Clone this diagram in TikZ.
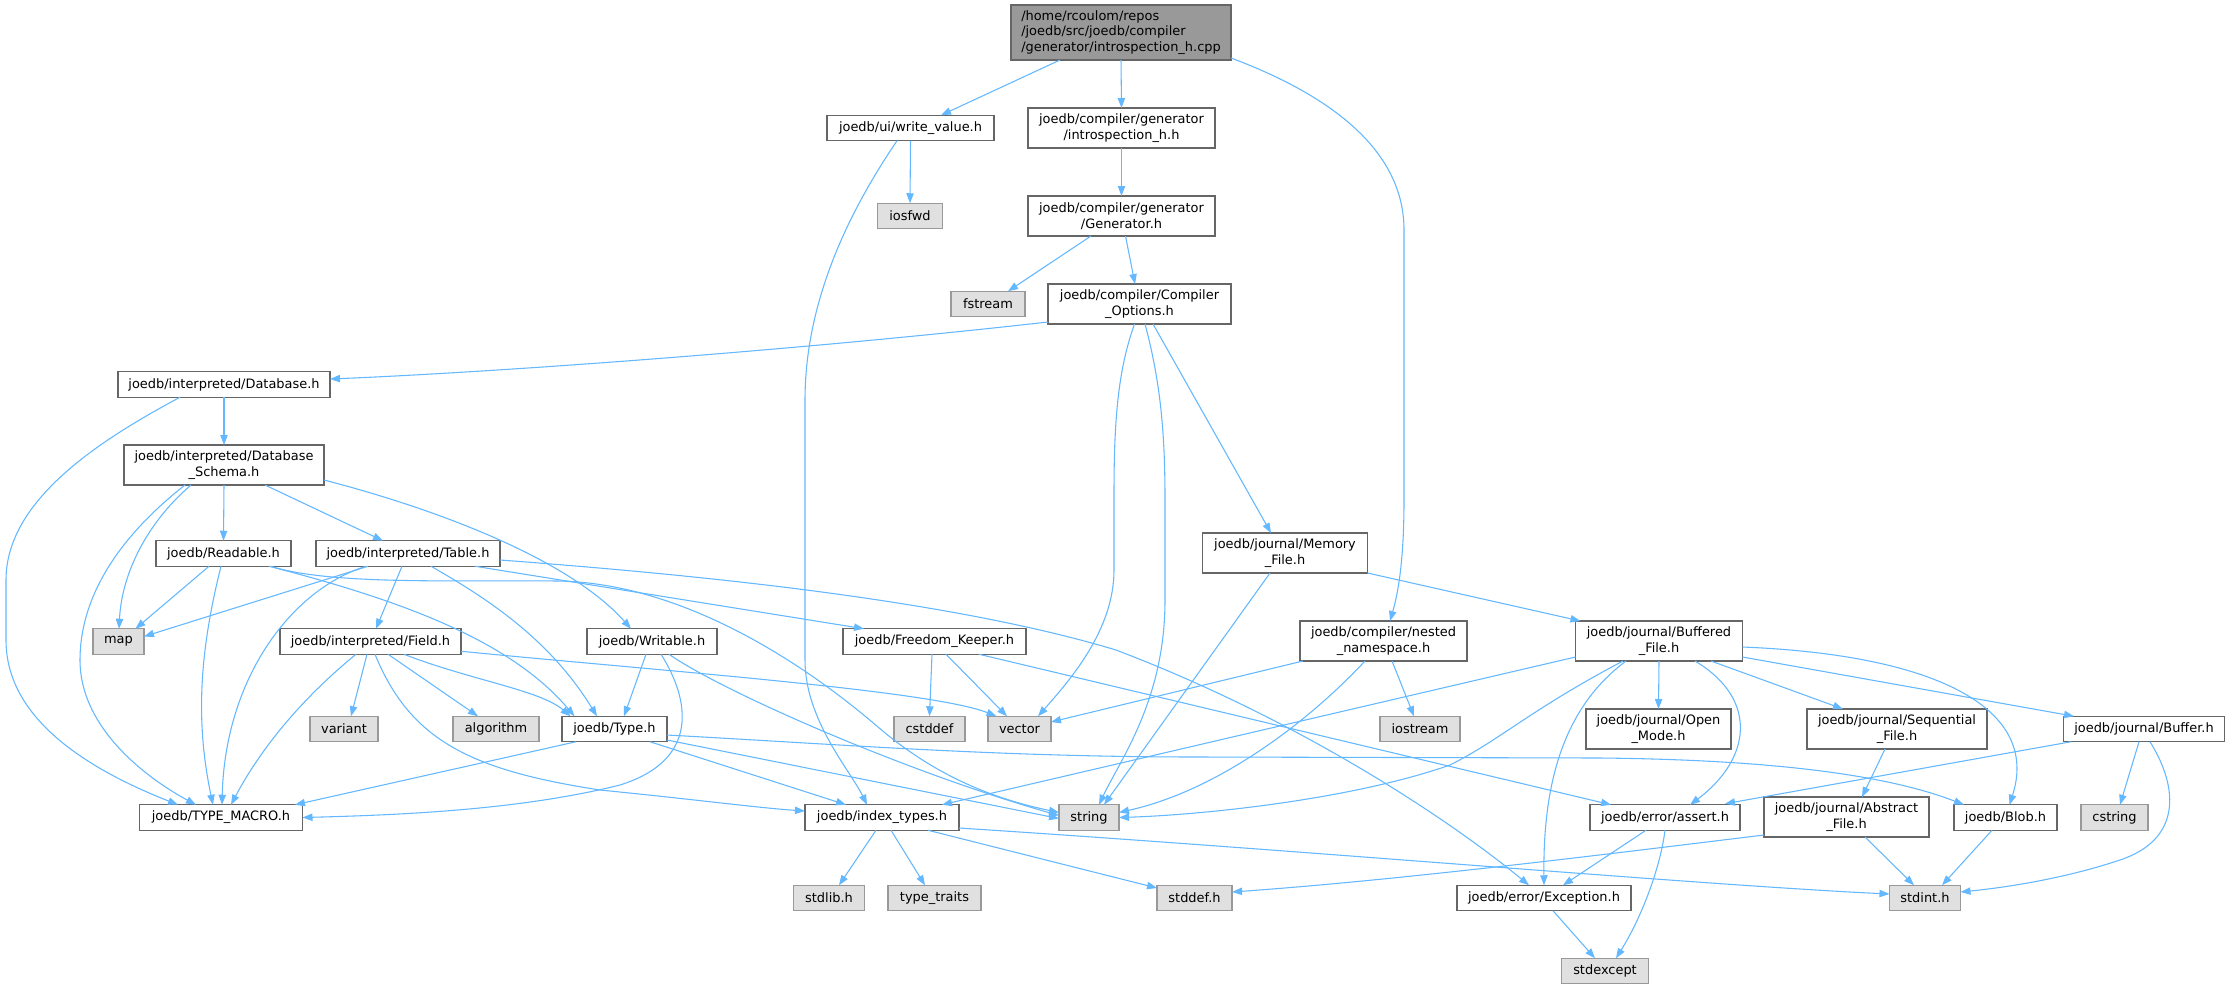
\documentclass[tikz,border=0pt]{standalone}
\usepackage{fontspec}
\newfontfamily\djv{DejaVu Sans}
\usetikzlibrary{arrows.meta,calc}
\definecolor{edgec}{HTML}{63B8FF}
\definecolor{gfour}{HTML}{666666}
\definecolor{gsix}{HTML}{999999}
\definecolor{gnine}{HTML}{E0E0E0}
\begin{document}
\begin{tikzpicture}[x=0.75pt,y=-0.75pt,
  nd/.style={draw=gfour, fill=white, line width=0.8pt, inner sep=0pt, outer sep=0pt, align=center,
    font=\djv\fontsize{9.7}{11.8}\selectfont, minimum height=25.5*0.75pt},
  sys/.style={nd, draw=gsix, fill=gnine},
  two/.style={minimum height=40*0.75pt},
  bw/.style={minimum width=#1*0.75pt},
  e/.style={draw=edgec, line width=0.8pt, -{Triangle[length=7.5pt,width=5.5pt]}}
]
\fill[white] (0,0) rectangle (2230,989);
\useasboundingbox (0,0) rectangle (2230,989);

% nodes
\node[nd,bw=220,minimum height=55*0.75pt,fill=gsix,align=left] (root) at (1121,32.5) {/home/rcoulom/repos\\/joedb/src/joedb/compiler\\/generator/introspection\_h.cpp};
\node[nd,bw=167] (wv) at (910.5,128) {joedb/ui/write\_value.h};
\node[nd,two,bw=187] (ih) at (1121.5,128) {joedb/compiler/generator\\/introspection\_h.h};
\node[sys,bw=65] (iosfwd) at (910,216) {iosfwd};
\node[nd,two,bw=187] (gen) at (1121.5,216) {joedb/compiler/generator\\/Generator.h};
\node[sys,bw=74] (fstream) at (988,304) {fstream};
\node[nd,two,bw=183] (co) at (1139.5,304) {joedb/compiler/Compiler\\\_Options.h};
\node[nd,bw=212] (db) at (224,384.5) {joedb/interpreted/Database.h};
\node[nd,two,bw=200] (dbs) at (224,465) {joedb/interpreted/Database\\\_Schema.h};
\node[nd,bw=135] (rd) at (223.5,553.5) {joedb/Readable.h};
\node[nd,bw=184] (tbl) at (408,553.5) {joedb/interpreted/Table.h};
\node[nd,two,bw=165] (mf) at (1285,553) {joedb/journal/Memory\\\_File.h};
\node[sys,bw=51] (map) at (118.5,641.5) {map};
\node[nd,bw=181] (fld) at (370.5,641.5) {joedb/interpreted/Field.h};
\node[nd,bw=130] (wr) at (652,641.5) {joedb/Writable.h};
\node[nd,bw=183] (fk) at (934.5,641.5) {joedb/Freedom\_Keeper.h};
\node[nd,two,bw=167] (nn) at (1383.5,641) {joedb/compiler/nested\\\_namespace.h};
\node[nd,two,bw=167] (bf) at (1659,641) {joedb/journal/Buffered\\\_File.h};
\node[sys,bw=68] (variant) at (344,729) {variant};
\node[sys,bw=86] (algorithm) at (496,729) {algorithm};
\node[nd,bw=105] (type) at (614.5,729) {joedb/Type.h};
\node[sys,bw=71] (cstddef) at (929.5,729) {cstddef};
\node[sys,bw=63] (vector) at (1019.5,729) {vector};
\node[sys,bw=80] (iostream) at (1420,729) {iostream};
\node[nd,two,bw=145] (om) at (1658.5,729) {joedb/journal/Open\\\_Mode.h};
\node[nd,two,bw=180] (seq) at (1897,729) {joedb/journal/Sequential\\\_File.h};
\node[nd,bw=161] (buf) at (2144,729) {joedb/journal/Buffer.h};
\node[nd,bw=163] (tm) at (221,817.5) {joedb/TYPE\_MACRO.h};
\node[nd,bw=154] (it) at (882,817.5) {joedb/index\_types.h};
\node[sys,bw=60] (string) at (1089,817.5) {string};
\node[nd,bw=150] (assert) at (1665,817.5) {joedb/error/assert.h};
\node[nd,two,bw=165] (abs) at (1846.5,817) {joedb/journal/Abstract\\\_File.h};
\node[nd,bw=103] (blob) at (2005.5,817.5) {joedb/Blob.h};
\node[sys,bw=67] (cstring) at (2114.5,817.5) {cstring};
\node[sys,bw=71] (stdlib) at (829,898) {stdlib.h};
\node[sys,bw=93] (tt) at (934.5,898) {type\_traits};
\node[sys,bw=75] (stddef) at (1194.5,898) {stddef.h};
\node[nd,bw=174] (exc) at (1544,898) {joedb/error/Exception.h};
\node[sys,bw=71] (stdint) at (1925,898) {stdint.h};
\node[sys,bw=87] (stdexcept) at (1605,971) {stdexcept};

% edges
\draw[e] ($(root.south)+(-61,0)$) -- ($(wv.north)+(30.5,0)$);
\draw[e] (root.south) -- (ih.north);
\draw[e] ($(root.south east)+(0,-2)$) .. controls (1330,95) and (1404,150) .. (1404,230) -- (1404,500) .. controls (1404,570) and (1396,600) .. ($(nn.north)+(6.5,0)$);
\draw[e] (wv.south) -- (iosfwd.north);
\draw[e] ($(wv.south)+(-13.5,0)$) .. controls (850,210) and (805,300) .. (805,400) -- (805,660) .. controls (805,720) and (850,770) .. ($(it.north)+(-15,0)$);
\draw[e] (ih.south) -- (gen.north);
\draw[e] ($(gen.south)+(-30.5,0)$) -- ($(fstream.north)+(20,0)$);
\draw[e] ($(gen.south)+(4,0)$) -- ($(co.north)+(-4.5,0)$);
\draw[e] ($(co.south west)+(0,-2)$) .. controls (800,350) and (500,372) .. ($(db.east)+(0,-5.5)$);
\draw[e] ($(co.south)+(-5,0)$) .. controls (1118,370) and (1114,420) .. (1114,493) -- (1114,570) .. controls (1114,630) and (1070,680) .. ($(vector.north)+(18.5,0)$);
\draw[e] ($(co.south)+(5.5,0)$) .. controls (1160,380) and (1165,430) .. (1165,500) -- (1165,600) .. controls (1165,700) and (1120,760) .. ($(string.north)+(10,0)$);
\draw[e] ($(co.south)+(13.5,0)$) -- ($(mf.north)+(-14,0)$);
\draw[e] (db.south) -- (dbs.north);
\draw[e] ($(db.south)+(-44,0)$) .. controls (100,440) and (6,500) .. (6,580) -- (6,640) .. controls (6,720) and (90,770) .. ($(tm.north)+(-43,0)$);
\draw[e] ($(dbs.south)+(-33,0)$) .. controls (150,520) and (122,570) .. ($(map.north)+(0.5,0)$);
\draw[e] ($(dbs.south)+(-39,0)$) .. controls (115,540) and (80,600) .. (80,660) .. controls (80,730) and (150,780) .. ($(tm.north)+(-25,0)$);
\draw[e] (dbs.south) -- (rd.north);
\draw[e] ($(dbs.south)+(41,0)$) -- ($(tbl.north)+(-25,0)$);
\draw[e] ($(dbs.south east)+(0,-5)$) .. controls (440,510) and (570,560) .. ($(wr.north)+(-21,0)$);
\draw[e] ($(rd.south)+(-14.5,0)$) -- ($(map.north)+(17,0)$);
\draw[e] ($(rd.south)+(-2.5,0)$) .. controls (200,650) and (195,720) .. ($(tm.north)+(-8,0)$);
\draw[e] ($(rd.south)+(45.5,0)$) .. controls (400,600) and (510,640) .. ($(type.north)+(-40,0)$);
\draw[e] ($(rd.south)+(47,0)$) .. controls (330,585) and (450,580) .. (558,581) .. controls (680,583) and (800,660) .. (878,727) .. controls (940,780) and (1000,800) .. ($(string.west)+(0,-5)$);
\draw[e] ($(tbl.south)+(-40,0)$) -- ($(map.east)+(0,-5)$);
\draw[e] ($(tbl.south)+(-42,0)$) .. controls (290,590) and (225,680) .. ($(tm.north)+(1,0)$);
\draw[e] ($(tbl.south)+(-6,0)$) -- ($(fld.north)+(5.5,0)$);
\draw[e] ($(tbl.south)+(23,0)$) .. controls (490,600) and (550,640) .. ($(type.north)+(-17.5,0)$);
\draw[e] ($(tbl.south)+(67,0)$) -- ($(fk.north)+(-70.5,0)$);
\draw[e] ($(tbl.east)+(0,6.5)$) .. controls (700,575) and (950,600) .. (1116,650) .. controls (1300,720) and (1450,820) .. ($(exc.north)+(-15,0)$);
\draw[e] ($(fld.south)+(-14.5,0)$) .. controls (300,700) and (260,750) .. ($(tm.north)+(10,0)$);
\draw[e] ($(fld.south)+(-3.5,0)$) -- ($(variant.north)+(7,0)$);
\draw[e] ($(fld.south)+(17.5,0)$) -- ($(algorithm.north)+(-18,0)$);
\draw[e] ($(fld.south)+(33.5,0)$) .. controls (470,680) and (540,690) .. ($(type.north)+(-44,0)$);
\draw[e] ($(fld.south)+(4.5,0)$) .. controls (410,740) and (470,770) .. (600,790) .. controls (700,800) and (760,808) .. ($(it.west)+(0,-6.5)$);
\draw[e] ($(fld.south east)+(0,-3)$) .. controls (650,670) and (930,690) .. ($(vector.north)+(-23,0)$);
\draw[e] ($(wr.south)+(-6,0)$) -- ($(type.north)+(9.5,0)$);
\draw[e] ($(wr.south)+(9,0)$) .. controls (690,700) and (700,760) .. (620,785) .. controls (520,810) and (400,815) .. (tm.east);
\draw[e] ($(wr.south)+(17,0)$) .. controls (720,690) and (900,770) .. ($(string.west)+(0,-2)$);
\draw[e] ($(type.south)+(-38.5,0)$) -- ($(tm.north)+(74,0)$);
\draw[e] ($(type.south)+(35.5,0)$) -- ($(it.north)+(-36,0)$);
\draw[e] ($(type.east)+(0,11)$) -- ($(string.west)+(0,1)$);
\draw[e] ($(type.east)+(0,6)$) .. controls (850,745) and (1000,757) .. (1200,757) -- (1600,758) .. controls (1800,760) and (1900,780) .. ($(blob.north)+(-41.5,0)$);
\draw[e] ($(fk.south)+(-2.5,0)$) -- (cstddef.north);
\draw[e] ($(fk.south)+(11.5,0)$) -- ($(vector.north)+(-12.5,0)$);
\draw[e] ($(fk.south)+(44.5,0)$) -- ($(assert.north)+(-54,0)$);
\draw[e] ($(it.south)+(-6,0)$) -- ($(stdlib.north)+(10,0)$);
\draw[e] ($(it.south)+(9,0)$) -- ($(tt.north)+(-9.5,0)$);
\draw[e] ($(it.south)+(46,0)$) -- ($(stddef.west)+(0,-10)$);
\draw[e] ($(it.east)+(0,10.5)$) .. controls (1300,850) and (1700,885) .. ($(stdint.west)+(0,-4)$);
\draw[e] ($(mf.south)+(-15,0)$) -- ($(string.north)+(15,0)$);
\draw[e] (mf.south east) -- ($(bf.north west)+(5,0)$);
\draw[e] ($(nn.south west)+(3,0)$) -- ($(vector.east)+(0,-7)$);
\draw[e] ($(nn.south)+(-18.5,0)$) .. controls (1310,720) and (1220,790) .. ($(string.east)+(0,-5)$);
\draw[e] ($(nn.south)+(8.5,0)$) -- ($(iostream.north)+(-6,0)$);
\draw[e] ($(bf.south west)+(0,-4)$) -- ($(it.north)+(60,0)$);
\draw[e] ($(bf.south)+(-36,0)$) .. controls (1530,710) and (1500,740) .. (1450,765) .. controls (1350,800) and (1200,815) .. (string.east);
\draw[e] ($(bf.south)+(-33,0)$) .. controls (1560,710) and (1543,790) .. (exc.north);
\draw[e] (bf.south) -- (om.north);
\draw[e] ($(bf.south)+(36,0)$) .. controls (1760,700) and (1750,760) .. ($(assert.north)+(25,0)$);
\draw[e] ($(bf.south)+(52,0)$) -- ($(seq.north)+(-54,0)$);
\draw[e] ($(bf.south east)+(0,-4)$) -- ($(buf.north)+(-70,0)$);
\draw[e] ($(bf.east)+(0,6)$) .. controls (1940,655) and (2040,710) .. ($(blob.north)+(4,0)$);
\draw[e] ($(seq.south)+(-12,0)$) -- ($(abs.north)+(15.5,0)$);
\draw[e] ($(buf.south)+(-73,0)$) -- ($(assert.north east)+(-15,-1)$);
\draw[e] ($(buf.south)+(-5,0)$) -- ($(cstring.north)+(5.5,0)$);
\draw[e] ($(buf.south)+(6,0)$) .. controls (2180,790) and (2180,840) .. (2120,860) .. controls (2060,880) and (2000,888) .. ($(stdint.east)+(0,-6)$);
\draw[e] ($(abs.south west)+(0,-2)$) .. controls (1600,855) and (1400,880) .. ($(stddef.east)+(0,-6)$);
\draw[e] ($(abs.south)+(18.5,0)$) -- ($(stdint.north)+(-11,0)$);
\draw[e] ($(blob.south)+(-13.5,0)$) -- ($(stdint.north)+(17,0)$);
\draw[e] ($(assert.south)+(-19,0)$) -- ($(exc.north)+(19,0)$);
\draw[e] (assert.south) .. controls (1660,870) and (1640,920) .. ($(stdexcept.north)+(11,0)$);
\draw[e] ($(exc.south)+(9,0)$) -- ($(stdexcept.north)+(-10,0)$);
\end{tikzpicture}
\end{document}
